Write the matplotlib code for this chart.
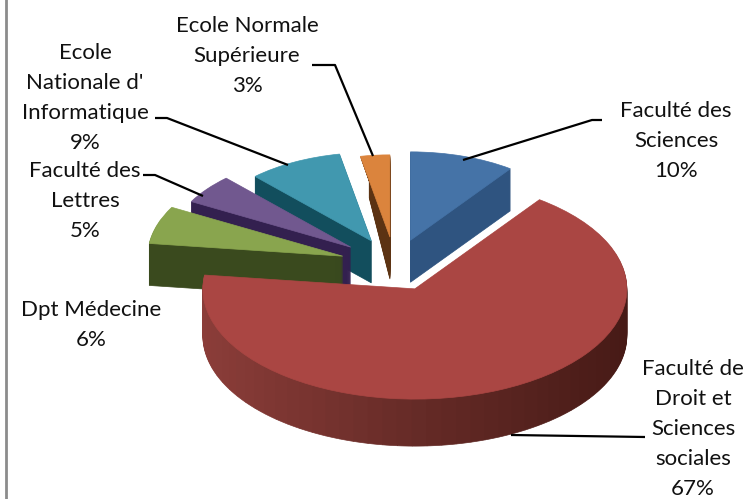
import numpy as np
import matplotlib
matplotlib.use("Agg")
import matplotlib.pyplot as plt
from matplotlib.colors import to_rgb

plt.rcParams['font.family'] = ['Lato', 'DejaVu Sans']

labels = ["Faculté des\nSciences", "Faculté de\nDroit et\nSciences\nsociales", "Dpt Médecine",
          "Faculté des\nLettres", "Ecole\nNationale d'\nInformatique", "Ecole Normale\nSupérieure"]
values = [10, 67, 6, 5, 9, 3]
top_colors = ["#4573a7", "#aa4643", "#89a54e", "#71588f", "#4198af", "#db843d"]
wall_colors = ["#2f5480", "#5f2825", "#3a4a1e", "#33204f", "#124e5d", "#5c3313"]

# layout of the fake 3d pie, in pixels
squash = 0.52
cx, cy = 395, 265
explode = [50, 50, 55, 56, 52, 54]
radius = [170, 212, 195, 182, 170, 158]
depth = [42, 47, 42, 42, 42, 42]
taper = [0, 0, 0, 0, 0, 0.3]  # orange wall gets narrower going down
draw_order = [0, 5, 4, 3, 2, 1]

label_pos = [(676, 110), (693, 368), (91, 309), (85, 170), (85, 52), (247, 25)]
leaders = [[(463, 160), (592, 120), (602, 120)],
           [(511, 435), (645, 437)],
           [(143, 175), (155, 175), (203, 196)],
           [(155, 118), (167, 118), (288, 165)],
           [(312, 65), (335, 65), (373, 156)]]

fig = plt.figure(figsize=(7.49, 4.99), dpi=100)
ax = fig.add_axes([0, 0, 1, 1])


def flat_y(py):
    return (499 - py) / squash


def red_shades(angles):
    s = np.sin(np.radians(angles))
    stops = [to_rgb("#8b3d39"), to_rgb("#662b27"), to_rgb("#471a16")]
    return [tuple(np.interp(a, [-1, 0, 1], [c[k] for c in stops]) for k in range(3)) for a in s]


def wedge(vals, start, c, r, cols):
    res = ax.pie(vals, normalize=False, startangle=90 - start, counterclock=False,
                 center=c, radius=r, colors=cols, wedgeprops=dict(linewidth=0.5))
    for w in res[0]:
        w.set_edgecolor(w.get_facecolor())


starts = np.cumsum([0] + values[:-1])
for i in draw_order:
    v = values[i]
    start = 3.6 * starts[i]
    mid = np.radians(start + 1.8 * v)
    x0 = cx + explode[i] * np.sin(mid)
    py0 = cy - explode[i] * np.cos(mid) * squash
    # wall = stack of the same wedge going upwards, top face comes last
    for d in range(depth[i], 0, -1):
        c = (x0, flat_y(py0 + d))
        if i == 1:
            n = 60
            ang = start + 3.6 * v * (np.arange(n) + 0.5) / n
            wedge(np.full(n, v / 100 / n), start, c, radius[i], red_shades(ang))
        else:
            cut = taper[i] * min(1, d / 20)
            wedge([v * (1 - cut) / 100], start + 3.6 * v * cut, c, radius[i], [wall_colors[i]])
    wedge([v / 100], start, (x0, flat_y(py0)), radius[i], [top_colors[i]])

ax.set_aspect('auto')
ax.set_xlim(0, 749)
ax.set_ylim(0, 499 / squash)

# labels and leader lines in pixel coordinates
over = fig.add_axes([0, 0, 1, 1], facecolor='none')
over.set_xlim(0, 749)
over.set_ylim(499, 0)
over.axis('off')
for line in leaders:
    over.plot([p[0] for p in line], [p[1] for p in line], color='black', lw=1.6, solid_capstyle='butt')
for i, lab in enumerate(labels):
    over.text(label_pos[i][0], label_pos[i][1] - 9, f"{lab}\n{values[i]}%", ha='center', va='top',
              fontsize=16, linespacing=1.62, color='#111111')
over.plot([6, 6], [0, 499], color='#8c8c8c', lw=2)

fig.savefig("out.png", dpi=100)
